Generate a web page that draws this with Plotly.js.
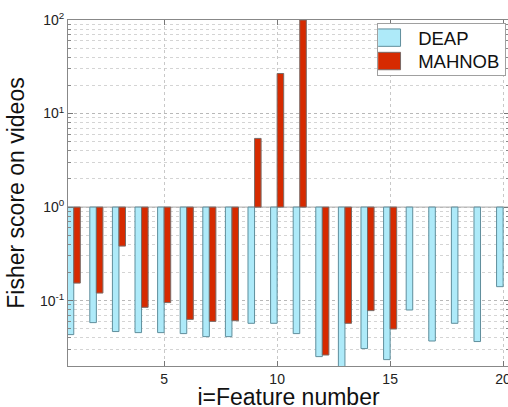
<!DOCTYPE html>
<html>
<head>
<meta charset="utf-8">
<script src="https://cdn.plot.ly/plotly-3.0.1.min.js"></script>
<style>
html,body{margin:0;padding:0;overflow:hidden;background:#fff;width:508px;height:407px;}
#chart{width:512px;height:410px;}
</style>
</head>
<body>
<div id="chart"></div>
<script>
const features = [1,2,3,4,5,6,7,8,9,10,11,12,13,14,15,16,17,18,19,20];
const deap = [0.0433,0.0582,0.0467,0.0455,0.0455,0.0444,0.0412,0.0412,0.0572,0.0572,0.0444,0.0252,0.019,0.0307,0.0234,0.0794,0.037,0.0572,0.0365,0.141];
const mahnob = [0.154,0.1205,0.383,0.0848,0.0952,0.063,0.060,0.061,5.42,26.8,100,0.0262,0.0572,0.0782,0.0497,null,null,null,null,null];
const xTicks = [5,10,15,20];
const yTickVals = [0.1,1,10,100];
const yTickText = ['10<sup>-1</sup>','10<sup>0</sup>','10<sup>1</sup>','10<sup>2</sup>'];
const baseValue = 1;

const toSize = arr => arr.map(v => v === null ? null : v - baseValue);

// minor log grid positions 2..9 per decade
const yMinor = [];
for (let e = -2; e <= 1; e++) for (let k = 2; k <= 9; k++) yMinor.push(k * Math.pow(10, e));

const data = [
  {type:'bar', name:'DEAP', x:features, y:toSize(deap), base:baseValue,
   marker:{color:'#aeeaf9', line:{color:'#5f8e9c', width:1}}},
  {type:'bar', name:'MAHNOB', x:features, y:toSize(mahnob), base:baseValue,
   marker:{color:'#d62a00', line:{color:'#7a6a66', width:1}}}
];

const layout = {
  width:512, height:410,
  margin:{l:68, r:3, t:19.5, b:44.3},
  paper_bgcolor:'#fff', plot_bgcolor:'#fff',
  font:{family:'"Liberation Sans", Arial, sans-serif', color:'#222'},
  barmode:'group', bargap:0.42, bargroupgap:0,
  showlegend:true,
  legend:{x:0.701, y:0.991, xanchor:'left', yanchor:'top',
    bgcolor:'#fff', bordercolor:'#a0a0a0', borderwidth:1,
    font:{size:18.5, color:'#111'}, tracegroupgap:0},
  xaxis:{range:[0.745,20.26], tickvals:xTicks, ticks:'inside', ticklen:5, tickcolor:'#777',
    showgrid:true, gridcolor:'#c8c8c8', griddash:'dot', gridwidth:1,
    showline:true, linecolor:'#888', linewidth:1, mirror:'ticks', zeroline:false,
    tickfont:{size:14, color:'#222'},
    title:{text:'i=Feature number', font:{size:23, color:'#111'}, standoff:6}},
  yaxis:{type:'log', range:[Math.log10(0.02), 2], tickvals:yTickVals, ticktext:yTickText,
    ticks:'inside', ticklen:5, tickcolor:'#777',
    showgrid:true, gridcolor:'#b8b8b8', griddash:'dot', gridwidth:1,
    minor:{tickmode:'array', tickvals:yMinor, showgrid:true, gridcolor:'#d4d4d4', griddash:'dot',
      ticks:'inside', ticklen:3, tickcolor:'#888'},
    showline:true, linecolor:'#888', linewidth:1, mirror:'ticks', zeroline:false,
    tickfont:{size:14, color:'#222'},
    title:{text:'Fisher score on videos', font:{size:23, color:'#111'}, standoff:8}},
  shapes:[{type:'line', xref:'paper', x0:0, x1:1, yref:'y', y0:baseValue, y1:baseValue,
    line:{color:'#a8a8a8', width:1}, layer:'below'}]
};

Plotly.newPlot('chart', data, layout, {displayModeBar:false, staticPlot:true}).then(() => {
  document.querySelectorAll('.legend .legendpoints path').forEach(p => {
    p.setAttribute('transform', 'translate(8,0) scale(2.4,1.45)');
    p.style.vectorEffect = 'non-scaling-stroke';
  });
  // tighten legend rows to match the compact reference legend
  const items = document.querySelectorAll('.legend .traces');
  let y0 = null;
  items.forEach((t, i) => {
    const m = /translate\(([-\d.]+)[ ,]+([-\d.]+)\)/.exec(t.getAttribute('transform') || '');
    if (!m) return;
    if (y0 === null) y0 = parseFloat(m[2]);
    t.setAttribute('transform', 'translate(' + m[1] + ',' + (y0 - 5 + i * 23.4) + ')');
  });
  const bg = document.querySelector('.legend rect.bg');
  if (bg) bg.setAttribute('height', 51.5);
});
</script>
</body>
</html>
